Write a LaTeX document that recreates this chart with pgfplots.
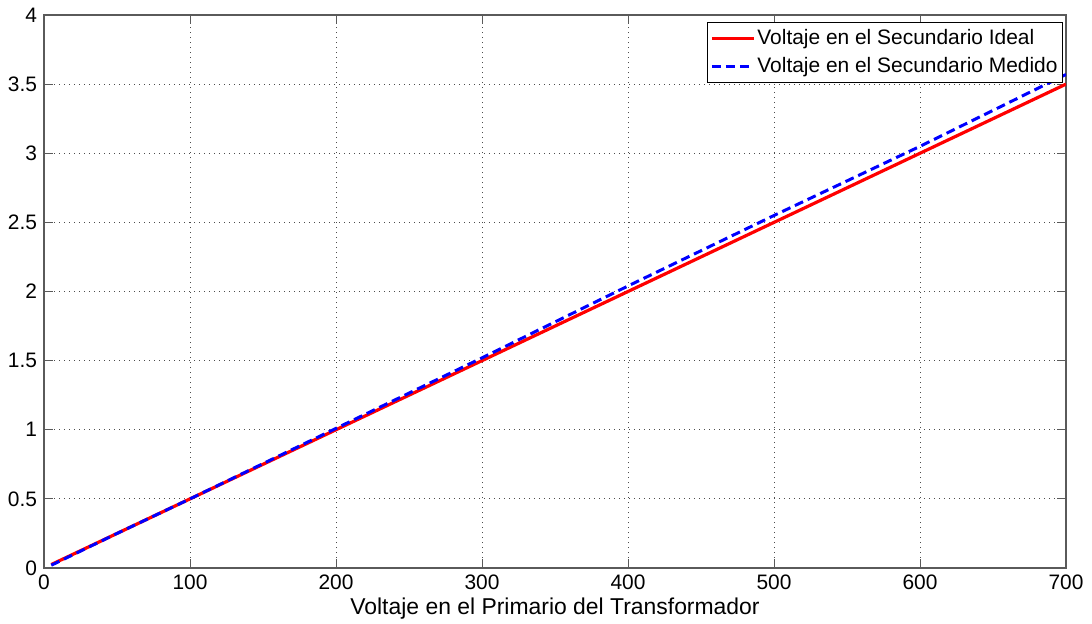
\documentclass[border=0pt]{standalone}
\usepackage{pgfplots}
\pgfplotsset{compat=1.18}
\usepackage{fontspec}
\setmainfont{Liberation Sans}
\definecolor{axgray}{RGB}{90,90,90}
\begin{document}
\begin{tikzpicture}
\begin{axis}[
  scale only axis,
  width=511bp, height=276.5bp,
  xmin=0, xmax=700, ymin=0, ymax=4,
  xtick={0,100,...,700}, ytick={0,0.5,...,4},
  tick align=inside, xtick pos=both, ytick pos=both,
  major tick length=4.5bp,
  tick style={axgray, line width=0.5bp},
  axis line style={axgray, line width=0.6bp},
  grid=major,
  major grid style={black!70, line width=0.4bp, dash pattern=on 0.5bp off 2bp},
  ticklabel style={font=\fontsize{10.5}{12}\selectfont},
  /pgf/number format/assume math mode=true,
  yticklabel style={/pgf/number format/fixed, /pgf/number format/precision=1},
  xlabel={Voltaje en el Primario del Transformador},
  xlabel style={font=\fontsize{11.5}{13}\selectfont, yshift=3bp},
  legend style={at={(1,1)}, anchor=north east, xshift=-1.5bp, yshift=-3.5bp,
    font=\fontsize{10.5}{12.5}\selectfont, draw=black, line width=0.5bp,
    inner sep=1.5bp, row sep=1bp, cells={anchor=west},
    nodes={inner xsep=1bp}},
  legend image code/.code={\draw[#1] (0cm,0cm) -- (0.74cm,0cm);},
]
\addplot[red, line width=1.6bp] coordinates {
(5,0.025) (100,0.5) (200,1.0) (300,1.5) (400,2.0) (500,2.5) (600,3.0) (700,3.5)};
\addlegendentry{Voltaje en el Secundario Ideal}
\addplot[blue, line width=1.5bp, dash pattern=on 4.5bp off 2.5bp] coordinates {
(5,0.02) (50,0.25) (100,0.50) (150,0.755) (200,1.01) (250,1.265) (300,1.52)
(350,1.78) (400,2.04) (450,2.295) (500,2.55) (550,2.80) (600,3.05) (650,3.31) (700,3.57)};
\addlegendentry{Voltaje en el Secundario Medido}
\end{axis}
\pgfresetboundingbox
\path[use as bounding box] ([xshift=-22bp,yshift=-27.5bp]current axis.south west) rectangle ([xshift=13bp,yshift=7.5bp]current axis.north east);
\end{tikzpicture}
\end{document}
